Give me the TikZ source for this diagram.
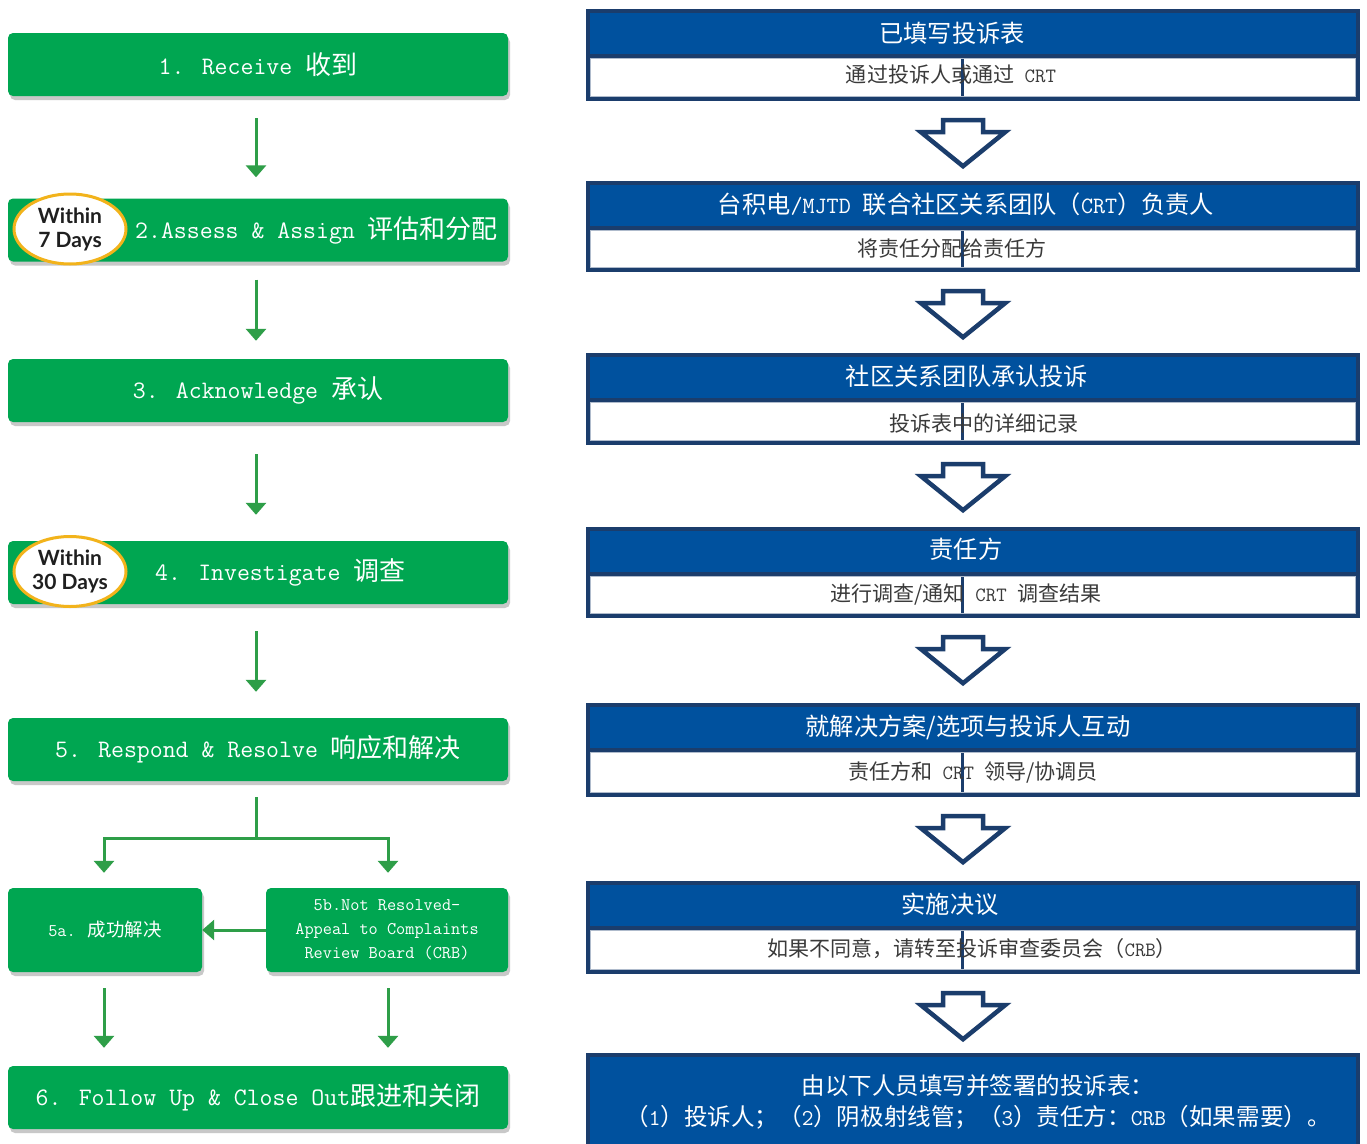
\documentclass[tikz,border=0pt]{standalone}
\usepackage{fontspec}
\setmainfont{Latin Modern Mono}
\newfontfamily\cjk[Scale=1.036]{Noto Sans CJK SC}
\newfontfamily\badgefont{Lato}
\usetikzlibrary{arrows.meta,shapes.geometric,shadows}
\definecolor{gfill}{HTML}{00A651}
\definecolor{garrowc}{HTML}{2E9E48}
\definecolor{navy}{HTML}{1B3D6C}
\definecolor{hblue}{HTML}{00519E}
\definecolor{badgey}{HTML}{F2B31B}
\definecolor{subgray}{HTML}{3A3A3A}
\newcommand\zh[1]{{\cjk #1}}
\newcommand\rparts[1]{%
  \fill[hblue] ([xshift=4pt,yshift=-4pt]#1.north west) rectangle ([xshift=-4pt,yshift=-45pt]#1.north east);
  \filldraw[fill=white,draw=navy!35,line width=0.8pt] ([xshift=5pt,yshift=-50pt]#1.north west) rectangle ([xshift=-5pt,yshift=5pt]#1.south east);
  \draw[navy,line width=3pt] ([xshift=-11pt,yshift=-50pt]#1.north) -- ([xshift=-11pt,yshift=5pt]#1.south);
}
\newcommand\hollow[1]{%
  \draw[hollowarrow] ([xshift=-10pt,yshift=-19pt]#1.south) ++(-20,0) -- ++(40,0) -- ++(0,12) -- ++(22,0) -- ++(-42,34) -- ++(-42,-34) -- ++(22,0) -- cycle;
}
\begin{document}
\begin{tikzpicture}[x=1pt,y=-1pt,
  gbox/.style={rectangle, rounded corners=5pt, fill=gfill, text=white, inner sep=0pt,
    minimum width=500pt, minimum height=63pt, font=\fontsize{25.1}{28}\selectfont,
    drop shadow={shadow xshift=2pt, shadow yshift=-4pt, opacity=0.3, fill=black!70}},
  smallbox/.style={gbox, minimum height=84pt, font=\fontsize{17.8}{24}\selectfont, align=center},
  gtext/.style={text=white, inner sep=0pt, font=\fontsize{25.1}{28}\selectfont},
  garrow/.style={draw=garrowc, line width=3pt, -{Triangle[width=20pt,length=12pt]}},
  badge/.style={ellipse, draw=badgey, line width=3pt, fill=white, minimum width=112pt,
    minimum height=70pt, inner sep=0pt, align=center, text=black!88,
    font=\badgefont\bfseries\fontsize{21}{24}\selectfont},
  rbox/.style={rectangle, fill=navy, inner sep=0pt, minimum width=774pt},
  htext/.style={text=white, inner sep=0pt, font=\fontsize{23.4}{28}\selectfont},
  stext/.style={text=subgray, inner sep=0pt, font=\fontsize{20.3}{24}\selectfont},
  hollowarrow/.style={draw=navy, fill=white, line width=4.5pt, line join=miter}
]
\useasboundingbox (0,0) rectangle (1367,1143);
\fill[white] (0,0) rectangle (1367,1143);

% ---------- left column ----------
\node[gbox] (s1) at (258,64.5) {1. Receive \zh{收到}};
\node[gbox] (s2) at (258,230) {};
\node[gtext, anchor=west] (s2t) at (135,230) {2.Assess \& Assign \zh{评估和分配}};
\node[badge] (b1) at (70,229) {Within\\7 Days};
\node[gbox] (s3) at (258,390.5) {3. Acknowledge \zh{承认}};
\node[gbox] (s4) at (258,572.5) {};
\node[gtext, anchor=west] (s4t) at (155,572) {4. Investigate \zh{调查}};
\node[badge] (b2) at (70,571.5) {Within\\30 Days};
\node[gbox] (s5) at (258,749.5) {5. Respond \& Resolve \zh{响应和解决}};
\node[smallbox, minimum width=194pt] (s5a) at (105,930) {5a. \zh{成功解决}};
\node[smallbox, minimum width=242pt] (s5b) at (387,930) {5b.Not Resolved-\\Appeal to Complaints\\Review Board (CRB)};
\node[gbox] (s6) at (258,1097.5) {6. Follow Up \& Close Out\zh{跟进和关闭}};

\draw[garrow, shorten <=22pt, shorten >=21pt] (s1.south -| 256,0) -- (s2.north -| 256,0);
\draw[garrow, shorten <=18pt, shorten >=18pt] (s2.south -| 256,0) -- (s3.north -| 256,0);
\draw[garrow, shorten <=32pt, shorten >=26pt] (s3.south -| 256,0) -- (s4.north -| 256,0);
\draw[garrow, shorten <=27pt, shorten >=26pt] (s4.south -| 256,0) -- (s5.north -| 256,0);
\coordinate (br) at (256,838);
\draw[garrow, shorten <=16pt, shorten >=15pt] (s5.south -| br) -- (br) -| (s5a.north -| 104,0);
\draw[garrow, shorten >=15pt] (br) -| (s5b.north -| 388,0);
\draw[garrow] (s5b.west) -- (s5a.east);
\draw[garrow, shorten <=16pt, shorten >=18pt] (s5a.south -| 104,0) -- (s6.north -| 104,0);
\draw[garrow, shorten <=16pt, shorten >=18pt] (s5b.south -| 388,0) -- (s6.north -| 388,0);

% ---------- right column ----------
\node[rbox, minimum height=92pt] (r1) at (973,55) {};
\node[rbox, minimum height=91pt] (r2) at (973,226.5) {};
\node[rbox, minimum height=92pt] (r3) at (973,399) {};
\node[rbox, minimum height=91pt] (r4) at (973,572.5) {};
\node[rbox, minimum height=94pt] (r5) at (973,750) {};
\node[rbox, minimum height=93pt] (r6) at (973,927.5) {};
\node[rbox, minimum height=100pt] (r7) at (973,1103) {};
\rparts{r1}\rparts{r2}\rparts{r3}\rparts{r4}\rparts{r5}\rparts{r6}
\fill[hblue] ([xshift=4pt,yshift=-4pt]r7.north west) rectangle ([xshift=-4pt]r7.south east);

\node[htext] (h1) at (952,33) {\zh{已填写投诉表}};
\node[stext] (t1) at (951,75) {\zh{通过投诉人或通过} CRT};
\node[htext] (h2) at (966,204) {\zh{台积电}/MJTD \zh{联合社区关系团队（}CRT\zh{）负责人}};
\node[stext] (t2) at (952,248) {\zh{将责任分配给责任方}};
\node[htext] (h3) at (967,376) {\zh{社区关系团队承认投诉}};
\node[stext] (t3) at (984,423) {\zh{投诉表中的详细记录}};
\node[htext] (h4) at (966,549) {\zh{责任方}};
\node[stext] (t4) at (966,595) {\zh{进行调查/通知} CRT \zh{调查结果}};
\node[htext] (h5) at (968,727) {\zh{就解决方案/选项与投诉人互动}};
\node[stext] (t5) at (973,772) {\zh{责任方和} CRT \zh{领导/协调员}};
\node[htext] (h6) at (950,904) {\zh{实施决议}};
\node[stext] (t6) at (972,949) {\zh{如果不同意，请转至投诉审查委员会（}CRB\zh{）}};
\node[htext, font=\fontsize{22.7}{31}\selectfont, align=center] (h7) at (978,1101.5)
  {\zh{由以下人员填写并签署的投诉表：}\\\zh{（}1\zh{）投诉人；（}2\zh{）阴极射线管；（}3\zh{）责任方：}CRB\zh{（如果需要）。}};

\hollow{r1}\hollow{r2}\hollow{r3}\hollow{r4}\hollow{r5}\hollow{r6}
\end{tikzpicture}
\end{document}
